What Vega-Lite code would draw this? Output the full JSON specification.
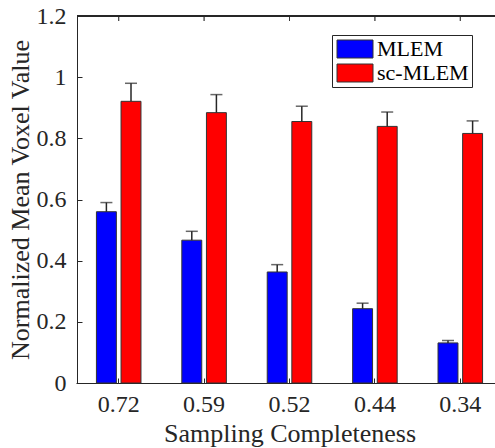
{
  "$schema": "https://vega.github.io/schema/vega-lite/v6.json",
  "autosize": "none",
  "width": 418,
  "height": 367,
  "padding": {"left": 77, "top": 16, "right": 0, "bottom": 65},
  "background": "white",
  "config": {
    "view": {"stroke": null},
    "font": "Liberation Serif",
    "axis": {
      "labelFont": "Liberation Serif",
      "titleFont": "Liberation Serif",
      "labelColor": "#262626",
      "titleColor": "#262626",
      "domainColor": "#262626",
      "tickColor": "#262626",
      "labelFontSize": 24,
      "titleFontSize": 26,
      "titleFontWeight": "normal",
      "grid": false
    }
  },
  "data": {
    "values": [
      {"cat": "0.72", "series": "MLEM", "value": 0.560, "err": 0.030},
      {"cat": "0.72", "series": "sc-MLEM", "value": 0.921, "err": 0.059},
      {"cat": "0.59", "series": "MLEM", "value": 0.467, "err": 0.029},
      {"cat": "0.59", "series": "sc-MLEM", "value": 0.884, "err": 0.059},
      {"cat": "0.52", "series": "MLEM", "value": 0.363, "err": 0.024},
      {"cat": "0.52", "series": "sc-MLEM", "value": 0.855, "err": 0.050},
      {"cat": "0.44", "series": "MLEM", "value": 0.243, "err": 0.018},
      {"cat": "0.44", "series": "sc-MLEM", "value": 0.839, "err": 0.047},
      {"cat": "0.34", "series": "MLEM", "value": 0.131, "err": 0.008},
      {"cat": "0.34", "series": "sc-MLEM", "value": 0.816, "err": 0.041}
    ]
  },
  "transform": [{"calculate": "datum.value + datum.err", "as": "hi"}],
  "layer": [
    {
      "mark": {"type": "bar", "stroke": "#333333", "strokeWidth": 1},
      "encoding": {
        "x": {
          "field": "cat",
          "type": "nominal",
          "sort": ["0.72", "0.59", "0.52", "0.44", "0.34"],
          "scale": {"range": [-1, 426], "paddingInner": 0, "paddingOuter": 0},
          "axis": {
            "title": "Sampling Completeness",
            "labelAngle": 0,
            "labelPadding": 14,
            "tickSize": -5,
            "titlePadding": 4
          }
        },
        "xOffset": {
          "field": "series",
          "type": "nominal",
          "scale": {"paddingInner": 0.19, "paddingOuter": 0.83}
        },
        "y": {
          "field": "value",
          "type": "quantitative",
          "scale": {"domain": [0, 1.2], "nice": false, "zero": true},
          "axis": {
            "title": "Normalized Mean Voxel Value",
            "values": [0, 0.2, 0.4, 0.6, 0.8, 1, 1.2],
            "labelExpr": "datum.value == 0 ? '0' : datum.value == 1 ? '1' : format(datum.value, '.1f')",
            "tickSize": -5,
            "labelPadding": 16,
            "titlePadding": 3
          }
        },
        "color": {
          "field": "series",
          "type": "nominal",
          "scale": {"domain": ["MLEM", "sc-MLEM"], "range": ["#0000ff", "#ff0000"]},
          "legend": {
            "title": null,
            "orient": "none",
            "legendX": 255,
            "legendY": 19,
            "symbolType": "M-1,-1H3V1H-1Z",
            "symbolSize": 324,
            "symbolStrokeColor": "#333333",
            "symbolStrokeWidth": 1,
            "labelFont": "Liberation Serif",
            "labelFontSize": 22,
            "labelColor": "#000000",
            "labelOffset": 20,
            "labelLimit": 400,
            "labelExpr": "datum.label + '      '",
            "rowPadding": 2,
            "strokeColor": "#262626",
            "fillColor": "white",
            "padding": 3
          }
        }
      }
    },
    {
      "mark": {"type": "rule", "color": "#262626", "strokeWidth": 1.5},
      "encoding": {
        "x": {"field": "cat", "type": "nominal", "sort": ["0.72", "0.59", "0.52", "0.44", "0.34"]},
        "xOffset": {"field": "series", "type": "nominal"},
        "y": {"field": "value", "type": "quantitative"},
        "y2": {"field": "hi"}
      }
    },
    {
      "mark": {"type": "tick", "color": "#262626", "thickness": 1.5, "size": 12, "orient": "horizontal"},
      "encoding": {
        "x": {"field": "cat", "type": "nominal", "sort": ["0.72", "0.59", "0.52", "0.44", "0.34"]},
        "xOffset": {"field": "series", "type": "nominal"},
        "y": {"field": "hi", "type": "quantitative"}
      }
    },
    {
      "mark": {"type": "rule", "color": "#262626", "strokeWidth": 1},
      "encoding": {
        "y": {"datum": 1.2, "type": "quantitative"}
      }
    },
    {
      "mark": {"type": "tick", "color": "#262626", "thickness": 1, "size": 5, "orient": "vertical", "yOffset": 2.5},
      "encoding": {
        "x": {"field": "cat", "type": "nominal", "sort": ["0.72", "0.59", "0.52", "0.44", "0.34"]},
        "y": {"datum": 1.2, "type": "quantitative"}
      }
    }
  ]
}
